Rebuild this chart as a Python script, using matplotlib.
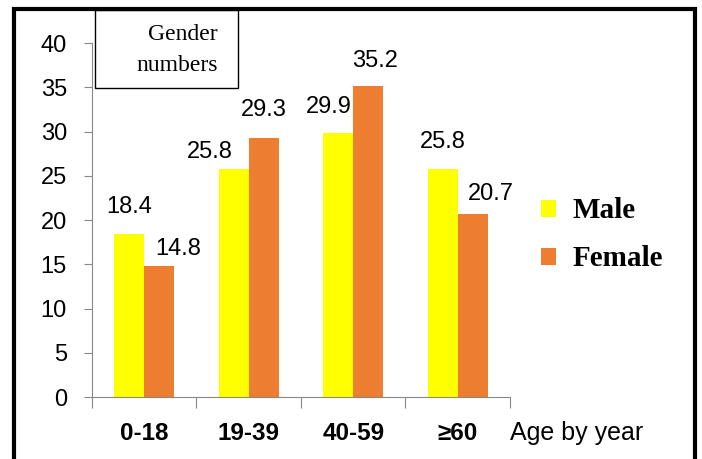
import matplotlib
matplotlib.use('Agg')
import matplotlib.pyplot as plt
from matplotlib.patches import Rectangle
import numpy as np

categories = ['0-18', '19-39', '40-59', '≥60']
male = [18.4, 25.8, 29.9, 25.8]
female = [14.8, 29.3, 35.2, 20.7]
yticks = [0, 5, 10, 15, 20, 25, 30, 35, 40]

# where the value labels sit relative to the bar top (pixels)
male_dx, male_dy = [0, -24, -10, 0], [27, 17, 26, 27]
female_dx, female_dy = [19, 0, 7, 18], [17, 28, 25, 20]

SANS = ['Liberation Sans', 'DejaVu Sans']
SERIF = ['Liberation Serif', 'DejaVu Serif']

fig = plt.figure(figsize=(7.02, 4.59), dpi=100)
ax = fig.add_axes([0.131, 0.135, 0.5955, 0.771])

x = np.arange(len(categories))
w = 0.285
bm = ax.bar(x - w / 2, male, w, color='#FFFF00', label='Male')
bf = ax.bar(x + w / 2, female, w, color='#ED7D31', label='Female')

for bars, vals, dxs, dys in ((bm, male, male_dx, male_dy),
                             (bf, female, female_dx, female_dy)):
    for b, v, dx, dy in zip(bars, vals, dxs, dys):
        ax.annotate(f'{v}', xy=(b.get_x() + b.get_width() / 2, v),
                    xytext=(dx, dy), textcoords='offset pixels',
                    ha='center', va='center', family=SANS, fontsize=17)

ax.set_xlim(-0.5, len(categories) - 0.5)
ax.set_ylim(0, 40)
ax.set_yticks(yticks)
ax.set_yticklabels([str(t) for t in yticks], family=SANS, fontsize=17)
ax.tick_params(axis='y', length=6, color='#888888', pad=12)

ax.set_xticks(np.arange(len(categories) + 1) - 0.5)
ax.set_xticklabels([])
ax.tick_params(axis='x', length=8, color='#888888', direction='out')
for xi, c in zip(x, categories):
    ax.text(xi, -0.102, c, transform=ax.get_xaxis_transform(), ha='center',
            va='center', fontsize=17.5, fontweight='bold', family=SANS)
ax.text(1.0, -0.102, 'Age by year', transform=ax.transAxes, ha='left',
        va='center', family=SANS, fontsize=18)

for s in ('top', 'right'):
    ax.spines[s].set_visible(False)
for s in ('left', 'bottom'):
    ax.spines[s].set_color('#888888')

ax.legend(loc='center left', bbox_to_anchor=(1.012, 0.458), frameon=False,
          prop=dict(family=SERIF, weight='bold', size=21),
          handlelength=0.52, handleheight=0.52, handletextpad=0.55,
          labelspacing=0.72)

# "Gender numbers" box
fig.patches.append(Rectangle((95 / 702, 1 - 88 / 459), 143 / 702, 78 / 459,
                             transform=fig.transFigure, fill=False,
                             edgecolor='black', linewidth=1))
fig.text(218 / 702, 1 - 35 / 459, 'Gender', ha='right', va='center',
         family=SERIF, fontsize=17)
fig.text(218 / 702, 1 - 66 / 459, 'numbers', ha='right', va='center',
         family=SERIF, fontsize=17)

# outer thick frame
fig.patches.append(Rectangle((13.5 / 702, -0.05), 681 / 702, 1.05 - 9.5 / 459,
                             transform=fig.transFigure, fill=False,
                             edgecolor='black', linewidth=3))

fig.savefig('out.png', dpi=100)
